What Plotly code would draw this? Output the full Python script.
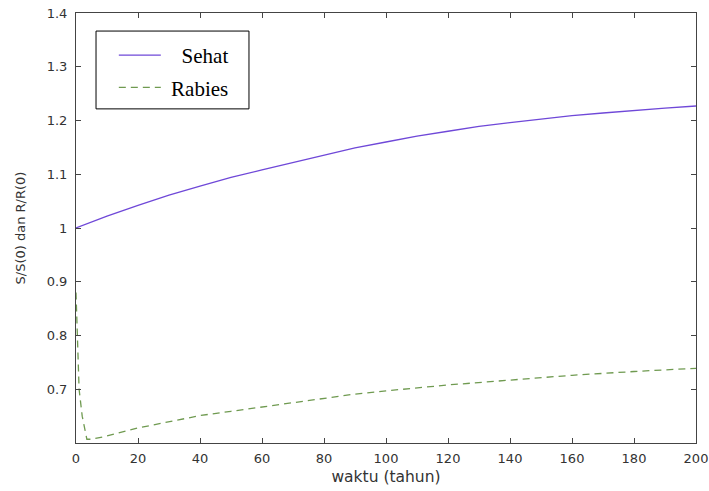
import plotly.graph_objects as go

sehat_x = [0, 10, 20, 30, 40, 50, 60, 70, 80, 90, 100, 110, 120, 130, 140, 150, 160, 170, 180, 190, 200]
sehat_y = [1.000, 1.022, 1.042, 1.061, 1.078, 1.094, 1.108, 1.122, 1.136, 1.149, 1.160, 1.171, 1.180, 1.189, 1.196, 1.203, 1.209, 1.214, 1.219, 1.223, 1.227]

rabies_x = [0, 0.5, 1, 2, 3.5, 5, 10, 20, 30, 40, 50, 60, 70, 80, 90, 100, 120, 140, 160, 180, 200]
rabies_y = [0.880, 0.780, 0.700, 0.650, 0.607, 0.607, 0.613, 0.628, 0.640, 0.651, 0.659, 0.667, 0.676, 0.684, 0.691, 0.697, 0.708, 0.717, 0.726, 0.733, 0.739]

x_ticks = [0, 20, 40, 60, 80, 100, 120, 140, 160, 180, 200]
y_ticks = [0.7, 0.8, 0.9, 1.0, 1.1, 1.2, 1.3, 1.4]
y_labels = ["0.7", "0.8", "0.9", "1", "1.1", "1.2", "1.3", "1.4"]

fig = go.Figure()
fig.add_trace(go.Scatter(x=sehat_x, y=sehat_y, mode="lines",
                         name="\u00a0\u00a0\u00a0Sehat", legendgroup="a",
                         line=dict(color="#6f48d8", width=1.3)))
fig.add_trace(go.Scatter(x=rabies_x, y=rabies_y, mode="lines",
                         name="\u00a0Rabies", legendgroup="b",
                         line=dict(color="#6f9a50", width=1.3, dash="7px,5px")))

tick_font = dict(family="DejaVu Sans", size=13, color="#333")
axis_common = dict(showgrid=False, zeroline=False, showline=True, linecolor="#444",
                   linewidth=1, mirror="ticks", ticks="inside", ticklen=5,
                   tickcolor="#444", tickfont=tick_font, automargin=False)

fig.update_xaxes(range=[0, 200], tickvals=x_ticks, ticklabelstandoff=3,
                 title=dict(text="waktu (tahun)", standoff=6,
                            font=dict(family="DejaVu Sans", size=15.5, color="#333")), **axis_common)
fig.update_yaxes(range=[0.6, 1.4], tickvals=y_ticks, ticktext=y_labels, ticklabelstandoff=5,
                 title=dict(text="S/S(0) dan R/R(0)", standoff=18,
                            font=dict(family="DejaVu Sans", size=13, color="#333")), **axis_common)

fig.update_layout(
    width=709, height=491,
    margin=dict(l=76, r=13, t=13, b=48),
    paper_bgcolor="white", plot_bgcolor="white",
    showlegend=True,
    legend=dict(x=0.061, y=0.949, xanchor="left", yanchor="top",
                borderwidth=0, bgcolor="rgba(0,0,0,0)",
                font=dict(family="Times New Roman, Liberation Serif", size=21, color="black"),
                itemwidth=42, tracegroupgap=2, traceorder="grouped"),
    shapes=[dict(type="rect", xref="paper", yref="paper",
                 x0=0.0323, x1=0.279, y0=0.777, y1=0.958,
                 line=dict(color="black", width=1), fillcolor="white", layer="below")],
)

fig.write_html("out.html", config={"displayModeBar": False},
               post_script="document.body.style.margin='0';")
